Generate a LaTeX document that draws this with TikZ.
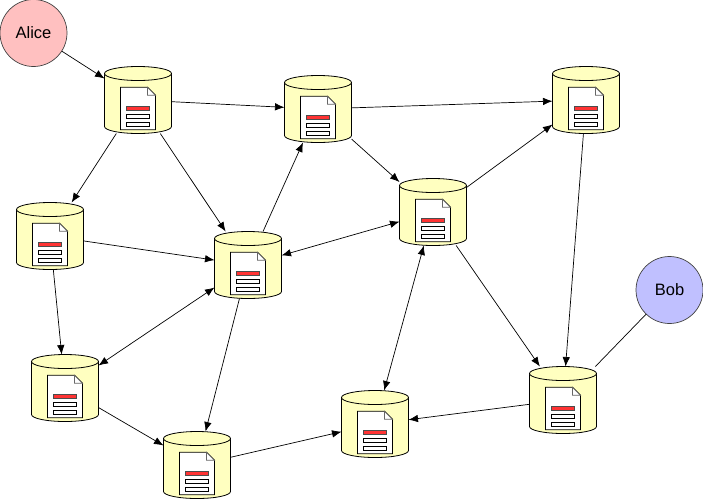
\documentclass[tikz,border=0pt]{standalone}
\usepackage{fontspec}
\setmainfont{Liberation Sans}
\usetikzlibrary{arrows.meta}
\definecolor{cylfill}{HTML}{FFFFC0}
\definecolor{alicefill}{HTML}{FFC0C0}
\definecolor{bobfill}{HTML}{C0C0FF}
\definecolor{barred}{HTML}{FF3333}
\tikzset{
  cylbox/.style={rectangle,minimum width=67pt,minimum height=67pt,inner sep=0pt,outer sep=0pt},
  cylbody/.style={draw=black,fill=cylfill,line width=0.8pt},
  docpage/.style={draw=black,fill=white,line width=0.8pt},
  docfold/.style={draw=black!60,fill=white,line width=0.7pt},
  docbar/.style={draw=black,fill=white,line width=0.7pt},
  docbarred/.style={draw=black!70,fill=barred,line width=0.5pt},
  person/.style={circle,draw=black!75,line width=0.7pt,minimum size=67pt,inner sep=0pt,outer sep=0pt,font=\fontsize{16.5}{16.5}\selectfont},
  link/.style={draw=black,line width=0.7pt},
  oneway/.style={link,-{Latex[length=9.5pt,width=7.5pt]}},
  twoway/.style={link,{Latex[length=9.5pt,width=7.5pt]}-{Latex[length=9.5pt,width=7.5pt]}}
}
\newcommand{\storenode}[3]{%
  \node[cylbox] (#1) at (#2,#3) {};
  \begin{scope}[shift={(#2,#3)}]
    \path[cylbody] (-33.5,-26.5) -- (-33.5,26.5) arc[start angle=180,end angle=0,x radius=33.5,y radius=7] -- (33.5,-26.5) -- cycle;
    \path[cylbody] (0,-26.5) ellipse[x radius=33.5,y radius=7];
    \path[docpage] (-17.5,-12.7) -- (9.5,-12.7) -- (17.5,-4.7) -- (17.5,29.7) -- (-17.5,29.7) -- cycle;
    \path[docfold] (9.5,-12.7) -- (9.5,-4.7) -- (17.5,-4.7) -- cycle;
    \path[docbarred] (-11.7,6) rectangle (11.7,10.7);
    \path[docbar] (-11.7,14) rectangle (11.7,18.3);
    \path[docbar] (-11.7,22) rectangle (11.7,26.3);
  \end{scope}%
}
\begin{document}
\begin{tikzpicture}[x=1pt,y=-1pt]
\useasboundingbox (0,0) rectangle (703,499);
\node[person,fill=alicefill] (alice) at (33.5,33) {Alice};
\node[person,fill=bobfill] (bob) at (669.5,290) {Bob};
\storenode{a}{138}{100}
\storenode{b}{318}{109}
\storenode{c}{586}{100}
\storenode{d}{433}{212}
\storenode{e}{50}{236}
\storenode{f}{248}{265}
\storenode{g}{65}{388}
\storenode{h}{197}{465}
\storenode{i}{375}{424}
\storenode{j}{563}{400}
\draw[oneway] (alice) -- (a);
\draw[oneway] (a) -- (b);
\draw[oneway] (b) -- (c);
\draw[oneway] (b) -- (d);
\draw[oneway] (a) -- (e);
\draw[oneway] (a) -- (f);
\draw[oneway] (e) -- (f);
\draw[oneway] (f) -- (b);
\draw[twoway] (f) -- (d);
\draw[oneway] (d) -- (c);
\draw[oneway] (c) -- (j);
\draw[oneway] (d) -- (j);
\draw[link] (bob) -- (j);
\draw[oneway] (j) -- (i);
\draw[twoway] (d) -- (i);
\draw[oneway] (h) -- (i);
\draw[oneway] (e) -- (g);
\draw[twoway] (g) -- (f);
\draw[oneway] (g) -- (h);
\draw[oneway] (f) -- (h);
\end{tikzpicture}
\end{document}
